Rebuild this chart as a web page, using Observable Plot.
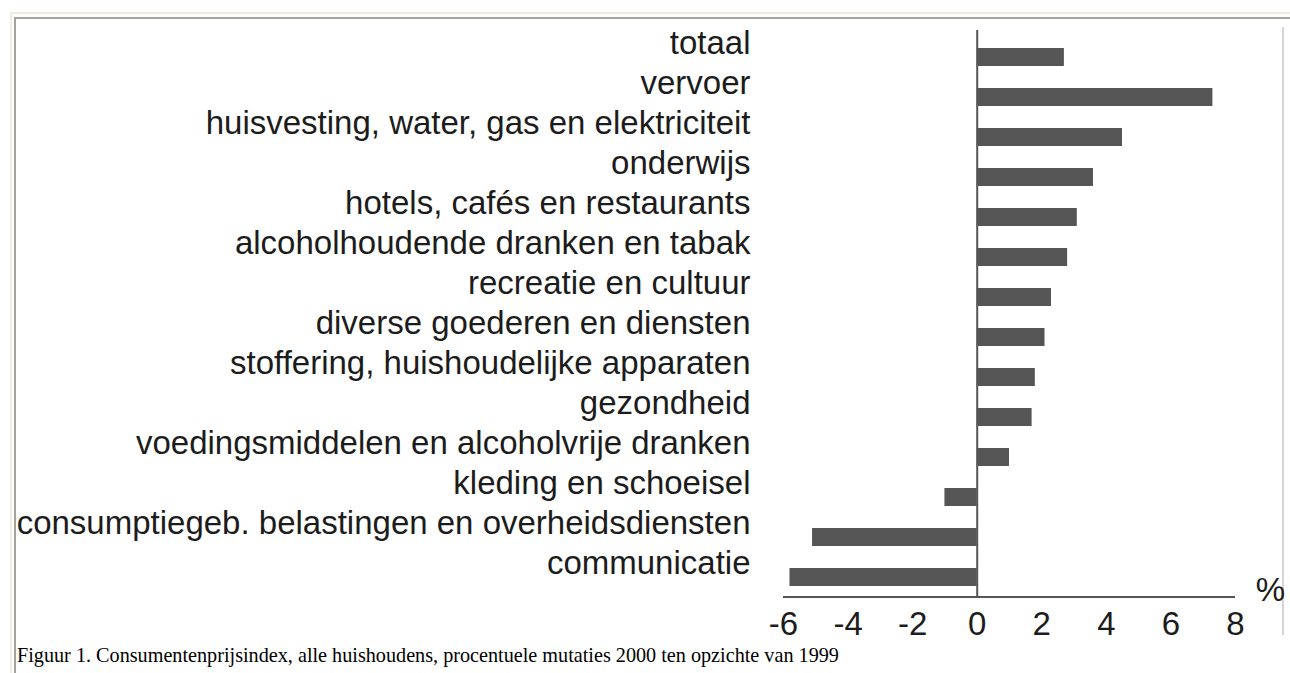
<!DOCTYPE html>
<html>
<head>
<meta charset="utf-8">
<script src="https://cdn.jsdelivr.net/npm/d3@7"></script>
<script src="https://cdn.jsdelivr.net/npm/@observablehq/plot@0.6"></script>
<style>
  html, body { margin: 0; padding: 0; background: #ffffff; overflow: hidden; }
  body { width: 1290px; height: 673px; position: relative; }
  #outer { position: absolute; left: 10px; top: 12px; width: 1400px; height: 800px;
           border-left: 2px solid #f0eddc; border-top: 2px solid #f0eddc; box-sizing: border-box; }
  #inner { position: absolute; left: 14px; top: 17px; width: 1400px; height: 800px;
           border-left: 2px solid #a4a49c; border-top: 2px solid #a4a49c; box-sizing: border-box; }
  #edge { position: absolute; left: 1282px; top: 27px; width: 2px; height: 608px; background: #d6d6d6; }
  #chart { position: absolute; left: 0; top: 0; }
  #caption { position: absolute; left: 17px; top: 645px; font-family: "Liberation Serif", "Times New Roman", serif;
             font-size: 20.2px; line-height: 20.2px; color: #000; white-space: nowrap; }
</style>
</head>
<body>
<div id="outer"></div>
<div id="inner"></div>
<div id="edge"></div>
<div id="chart"></div>
<div id="caption">Figuur 1. Consumentenprijsindex, alle huishoudens, procentuele mutaties 2000 ten opzichte van 1999</div>
<script>
const categories = [
  "totaal",
  "vervoer",
  "huisvesting, water, gas en elektriciteit",
  "onderwijs",
  "hotels, cafés en restaurants",
  "alcoholhoudende dranken en tabak",
  "recreatie en cultuur",
  "diverse goederen en diensten",
  "stoffering, huishoudelijke apparaten",
  "gezondheid",
  "voedingsmiddelen en alcoholvrije dranken",
  "kleding en schoeisel",
  "consumptiegeb. belastingen en overheidsdiensten",
  "communicatie"
];
const values = [2.7, 7.3, 4.5, 3.6, 3.1, 2.8, 2.3, 2.1, 1.8, 1.7, 1.0, -1.0, -5.1, -5.8];
const xTicks = [-6, -4, -2, 0, 2, 4, 6, 8];
const unitLabel = "%";

const data = categories.map((c, i) => ({category: c, value: values[i]}));

const axisLine = (index, scales, vals, dims) => {
  const yb = dims.height - dims.marginBottom;
  return d3.create("svg:line")
    .attr("x1", scales.x(xTicks[0]))
    .attr("x2", scales.x(xTicks[xTicks.length - 1]))
    .attr("y1", yb).attr("y2", yb)
    .attr("stroke", "#555").attr("stroke-width", 2)
    .node();
};

const chart = Plot.plot({
  width: 1290,
  height: 645,
  marginLeft: 783,
  marginRight: 55,
  marginTop: 30,
  marginBottom: 48,
  style: {fontFamily: "'Liberation Sans', Arial, sans-serif", fontSize: "33px", color: "#1c1c1c", background: "transparent"},
  x: {domain: [xTicks[0], xTicks[xTicks.length - 1]]},
  y: {domain: categories, range: [33, 600], paddingInner: 0.556, paddingOuter: 0.271},
  marks: [
    Plot.barX(data, {x: "value", y: "category", fill: "#555555"}),
    Plot.ruleX([0], {stroke: "#555", strokeWidth: 2}),
    axisLine,
    Plot.axisX({ticks: xTicks, tickFormat: d => String(d), tickSize: 0, tickPadding: 14, label: null}),
    Plot.axisY({tickSize: 0, tickPadding: 33, dy: -14, label: null}),
    Plot.text([unitLabel], {frameAnchor: "bottom-right", textAnchor: "middle", lineAnchor: "middle", dx: 35, dy: -7, fontSize: 33, fill: "#1c1c1c"})
  ]
});
document.getElementById("chart").appendChild(chart);
</script>
</body>
</html>
